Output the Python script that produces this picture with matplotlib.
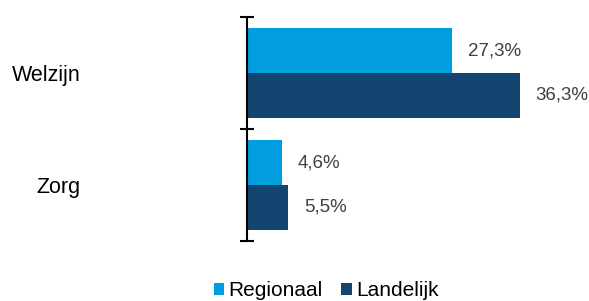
import matplotlib
matplotlib.use("Agg")
import matplotlib.pyplot as plt
import numpy as np

categories = ["Zorg", "Welzijn"]
regionaal = [4.6, 27.3]
landelijk = [5.5, 36.3]
series_names = ["Regionaal", "Landelijk"]
value_labels_reg = ["4,6%", "27,3%"]
value_labels_lan = ["5,5%", "36,3%"]

c_reg = "#009DDF"
c_lan = "#134571"

plt.rcParams['font.family'] = ['Liberation Sans', 'DejaVu Sans']

fig = plt.figure(figsize=(5.89, 3.01), dpi=100)
ax = fig.add_axes([247/589, (301-241)/301, (585-247)/589, 224/301])

y = np.arange(len(categories))
h = 0.4
b1 = ax.barh(y + h/2, regionaal, height=h, color=c_reg, label=series_names[0])
b2 = ax.barh(y - h/2, landelijk, height=h, color=c_lan, label=series_names[1])

for bars, labs in ((b1, value_labels_reg), (b2, value_labels_lan)):
    for bar, lab in zip(bars, labs):
        ax.annotate(lab, (bar.get_width(), bar.get_y() + bar.get_height()/2),
                    xytext=(11.5, 0), textcoords="offset points",
                    va="center", ha="left", fontsize=13.5, color="#404040")

ax.set_xlim(0, 45)
ax.set_ylim(-0.5, 1.5)
for s in ["top", "right", "bottom"]:
    ax.spines[s].set_visible(False)
ax.spines["left"].set_linewidth(1.5)
ax.set_xticks([])
ax.set_yticks(y)
ax.set_yticklabels(categories, fontsize=15.5)
ax.tick_params(axis="y", which="major", length=0, pad=120)
for t in ax.get_yticklabels():
    t.set_horizontalalignment("right")
ax.set_yticks([-0.5, 0.5, 1.5], minor=True)
ax.tick_params(axis="y", which="minor", direction="inout", length=10, width=1.5)

leg = fig.legend(handles=[b1, b2], labels=series_names, loc="center",
                 bbox_to_anchor=(326/589, 1 - 291/301), ncol=2, frameon=False,
                 fontsize=15, handlelength=0.5, handleheight=0.5,
                 handletextpad=0.2, columnspacing=0.9)

fig.savefig("out.png", dpi=100)
